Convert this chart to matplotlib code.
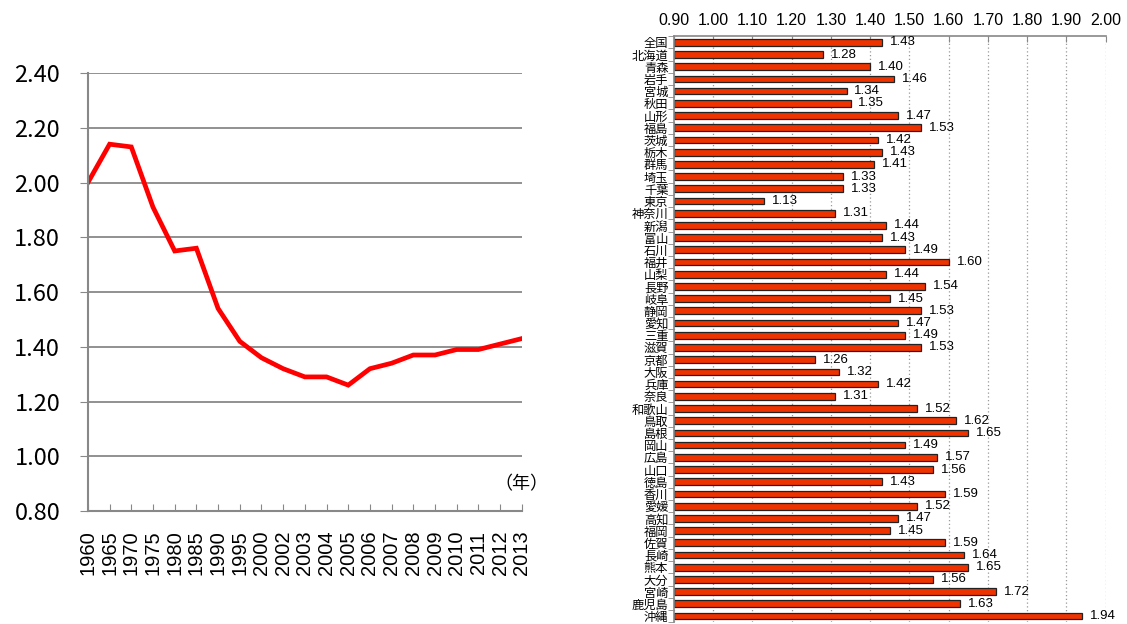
import matplotlib
matplotlib.use("Agg")
import matplotlib.pyplot as plt
import numpy as np

plt.rcParams['font.family'] = ['Noto Sans CJK JP', 'DejaVu Sans']

years = ['1960', '1965', '1970', '1975', '1980', '1985', '1990', '1995', '2000',
         '2002', '2003', '2004', '2005', '2006', '2007', '2008', '2009', '2010',
         '2011', '2012', '2013']
tfr = [2.00, 2.14, 2.13, 1.91, 1.75, 1.76, 1.54, 1.42, 1.36, 1.32, 1.29, 1.29,
       1.26, 1.32, 1.34, 1.37, 1.37, 1.39, 1.39, 1.41, 1.43]

prefs = ['全国', '北海道', '青森', '岩手', '宮城', '秋田', '山形', '福島', '茨城', '栃木',
         '群馬', '埼玉', '千葉', '東京', '神奈川', '新潟', '富山', '石川', '福井', '山梨',
         '長野', '岐阜', '静岡', '愛知', '三重', '滋賀', '京都', '大阪', '兵庫', '奈良',
         '和歌山', '鳥取', '島根', '岡山', '広島', '山口', '徳島', '香川', '愛媛', '高知',
         '福岡', '佐賀', '長崎', '熊本', '大分', '宮崎', '鹿児島', '沖縄']
pref_tfr = [1.43, 1.28, 1.40, 1.46, 1.34, 1.35, 1.47, 1.53, 1.42, 1.43,
            1.41, 1.33, 1.33, 1.13, 1.31, 1.44, 1.43, 1.49, 1.60, 1.44,
            1.54, 1.45, 1.53, 1.47, 1.49, 1.53, 1.26, 1.32, 1.42, 1.31,
            1.52, 1.62, 1.65, 1.49, 1.57, 1.56, 1.43, 1.59, 1.52, 1.47,
            1.45, 1.59, 1.64, 1.65, 1.56, 1.72, 1.63, 1.94]

fig = plt.figure(figsize=(11.27, 6.24), dpi=100)

# left: national trend
ax = fig.add_axes([0.078, 0.181, 0.385, 0.702])
x = np.arange(len(years))
ax.plot(x, tfr, color='#ff0000', lw=3.4, solid_joinstyle='miter')
ax.set_xlim(0, len(years) - 1)
ax.set_ylim(0.80, 2.40)
ax.set_yticks(np.arange(0.80, 2.41, 0.20))
ax.set_yticklabels([f'{v:.2f}' for v in np.arange(0.80, 2.41, 0.20)], fontsize=17)
ax.yaxis.grid(True, color='#888888', lw=1.3)
ax.set_xticks(x)
ax.set_xticklabels(years, rotation=90, fontsize=14.5, family=['Liberation Sans'])
ax.tick_params(axis='x', direction='in', length=5, color='#888888', pad=14)
ax.tick_params(axis='y', direction='out', length=6, color='#888888', pad=14)
for s in ['top', 'right']:
    ax.spines[s].set_visible(False)
for s in ['left', 'bottom']:
    ax.spines[s].set_color('#888888')
    ax.spines[s].set_linewidth(1.5)
ax.set_axisbelow(True)
ax.text(1.0, 0.04, '（年）', transform=ax.transAxes, ha='center', va='bottom', fontsize=13)

# right: prefectures
ax2 = fig.add_axes([0.598, 0.003, 0.383, 0.939])
y = np.arange(len(prefs))
ax2.barh(y, [v - 0.9 for v in pref_tfr], left=0.9, height=0.55,
         color='#ee3300', edgecolor='#222222', lw=0.9)
for yi, v in zip(y, pref_tfr):
    ax2.text(v + 0.02, yi, f'{v:.2f}', va='center', ha='left', fontsize=9.5,
             family=['Liberation Sans'])
ax2.set_xlim(0.9, 2.0)
ax2.set_ylim(len(prefs) - 0.5, -0.5)
ax2.xaxis.tick_top()
ax2.set_xticks(np.arange(0.9, 2.001, 0.1))
ax2.set_xticklabels([f'{v:.2f}' for v in np.arange(0.9, 2.001, 0.1)], fontsize=11.5,
                    family=['Liberation Sans'])
ax2.tick_params(axis='x', direction='in', length=4, color='#888888', pad=6)
ax2.xaxis.grid(True, color='#999999', ls=(0, (1, 2)), lw=0.9)
ax2.set_axisbelow(True)
ax2.set_yticks(y)
ax2.set_yticklabels(prefs, fontsize=8.8)
ax2.tick_params(axis='y', length=0, pad=4)
ax2.set_yticks(np.arange(-0.5, len(prefs), 1.0), minor=True)
ax2.tick_params(axis='y', which='minor', length=4, color='#888888', direction='out')
for s in ['bottom', 'right']:
    ax2.spines[s].set_visible(False)
for s in ['left', 'top']:
    ax2.spines[s].set_color('#888888')
    ax2.spines[s].set_linewidth(1.2)

fig.savefig('out.png', dpi=100)
